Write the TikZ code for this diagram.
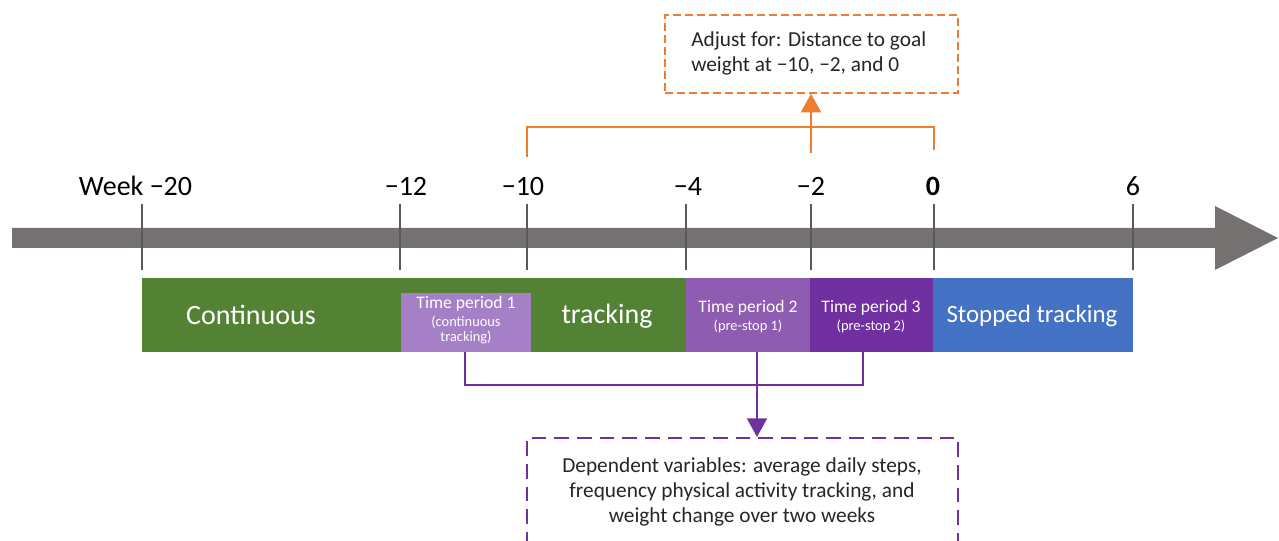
\documentclass[tikz,border=0pt]{standalone}
\usepackage{fontspec}
\setmainfont{Carlito}
\usetikzlibrary{arrows.meta}
\definecolor{axisgray}{HTML}{767171}
\definecolor{tickgray}{HTML}{595959}
\definecolor{bargreen}{HTML}{548235}
\definecolor{tpone}{HTML}{A680C6}
\definecolor{tptwo}{HTML}{8E5CB0}
\definecolor{tpthree}{HTML}{7030A0}
\definecolor{stopblue}{HTML}{4472C4}
\definecolor{adjorange}{HTML}{ED7D31}
\definecolor{deppurple}{HTML}{7030A0}
\begin{document}
\begin{tikzpicture}[x=0.75pt,y=-0.75pt,
  ticklabel/.style={anchor=base,inner sep=0pt,font=\fontsize{21}{25}\selectfont,text=black},
  tickline/.style={draw=tickgray,line width=0.9pt},
  bar/.style={inner sep=0pt,outer sep=0pt,draw=none},
  bigtext/.style={anchor=base,inner sep=0pt,text=white,font=\fontsize{21}{25}\selectfont},
  tptitle/.style={anchor=base,inner sep=0pt,text=white,font=\fontsize{13.2}{16}\selectfont},
  tpsub/.style={anchor=base,inner sep=0pt,text=white,font=\fontsize{10.8}{12}\selectfont},
  notetext/.style={inner sep=0pt,text=black!85,font=\fontsize{16}{19}\selectfont},
  orangeline/.style={draw=adjorange,line width=1.5pt},
  purpleline/.style={draw=deppurple,line width=1.5pt},
  tip/.style={-{Triangle[width=15pt,length=14pt]}},
]
\useasboundingbox (0,0) rectangle (1279,541);
\clip (0,0) rectangle (1279,541);

% axis arrow
\fill[axisgray] (12,228) -- (1215,228) -- (1215,206) -- (1278,238) -- (1215,270) -- (1215,248) -- (12,248) -- cycle;

% ticks
\foreach \x/\nm in {142/ta,400/tb,527/tc,686/td,811/te,934/tf,1133/tg}{
  \coordinate (\nm top) at (\x,204);
  \coordinate (\nm bot) at (\x,270);
  \draw[tickline] (\nm top) -- (\nm bot);
}

% tick labels
\node[ticklabel] (lw20) at (135.5,196) {Week −20};
\node[ticklabel] (l12) at (406,196) {−12};
\node[ticklabel] (l10) at (523,196) {−10};
\node[ticklabel] (l4) at (688,196) {−4};
\node[ticklabel] (l2) at (811,196) {−2};
\node[ticklabel,font=\fontsize{21}{25}\selectfont\bfseries] (l0) at (933,196) {0};
\node[ticklabel] (l6) at (1133,196) {6};

% bars
\node[bar,fill=bargreen,minimum width=408pt,minimum height=55.5pt] (green) at (414,315) {};
\node[bar,fill=tpone,minimum width=97.5pt,minimum height=44.25pt] (tp1) at (466,322.5) {};
\node[bar,fill=tptwo,minimum width=93pt,minimum height=55.5pt] (tp2) at (748,315) {};
\node[bar,fill=tpthree,minimum width=92.25pt,minimum height=55.5pt] (tp3) at (871.5,315) {};
\node[bar,fill=stopblue,minimum width=150pt,minimum height=55.5pt] (stop) at (1033,315) {};

% bar texts
\node[bigtext] (tcont) at (251,325) {Continuous};
\node[bigtext] (ttrack) at (607,324) {tracking};
\node[bigtext,font=\fontsize{18.7}{22}\selectfont] (tstop) at (1032,323) {Stopped tracking};
\node[tptitle] (tp1a) at (466,309) {Time period 1};
\node[tpsub] (tp1b) at (466,327) {(continuous};
\node[tpsub] (tp1c) at (466,342) {tracking)};
\node[tptitle] (tp2a) at (748,313) {Time period 2};
\node[tpsub] (tp2b) at (748,331) {(pre-stop 1)};
\node[tptitle] (tp3a) at (871,313) {Time period 3};
\node[tpsub] (tp3b) at (871,331) {(pre-stop 2)};

% adjust box
\node[draw=adjorange,line width=1.1pt,dash pattern=on 6pt off 3pt,minimum width=219.75pt,minimum height=58.5pt,inner sep=0pt] (adj) at (811.5,54) {};
\node[notetext,anchor=base west,align=left] (adjt) at (691,72) {Adjust for: Distance to goal\\weight at −10, −2, and 0};

% dependent box
\node[draw=deppurple,line width=1.5pt,dash pattern=on 11pt off 6pt,minimum width=323.25pt,minimum height=99pt,inner sep=0pt] (dep) at (742.5,504) {};
\node[notetext,anchor=base,align=center] (dept) at (742,523) {Dependent variables: average daily steps,\\frequency physical activity tracking, and\\weight change over two weeks};

% orange bracket
\coordinate (o10) at (527,157);
\coordinate (o0) at (934,150);
\coordinate (o2) at (811,153);
\draw[orangeline] (o10) -- ++(0,-30) -| (o0);
\draw[orangeline,tip] (o2) -- (o2 |- adj.south);

% purple bracket
\coordinate (p1) at (465,352);
\coordinate (p2) at (757,352);
\coordinate (p3) at (863,352);
\draw[purpleline] (p1) -- ++(0,33) -| (p3);
\draw[purpleline,tip] (p2) -- (p2 |- dep.north);
\end{tikzpicture}
\end{document}
